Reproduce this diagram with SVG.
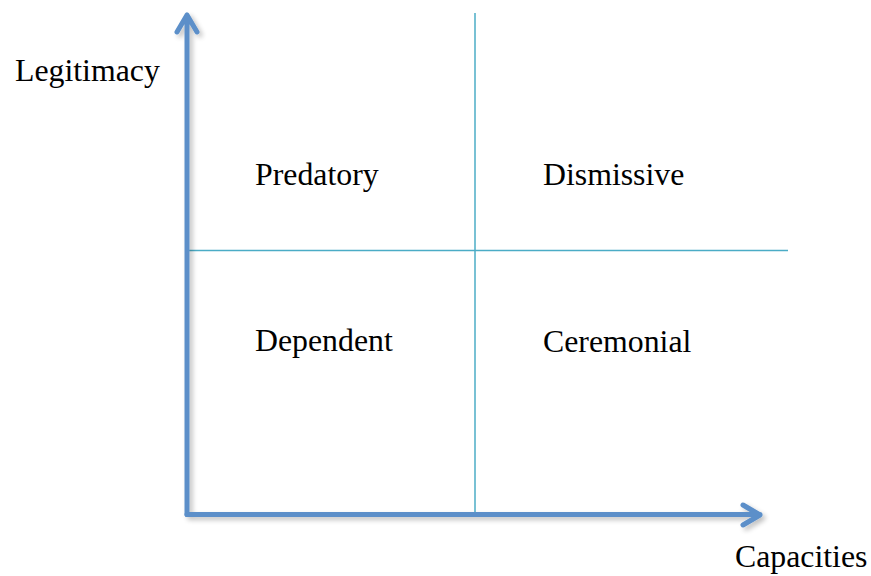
<svg xmlns="http://www.w3.org/2000/svg" width="871" height="576" viewBox="0 0 871 576">
<defs>
<style>
.lbl{font-family:"Liberation Serif","Times New Roman",serif;font-size:31.8px;fill:#000}
.axis{fill:none;stroke:#5B8FC9;stroke-width:5;stroke-linecap:round;stroke-linejoin:round}
.grid{fill:none;stroke:#4BACC6;stroke-width:1.5}
</style>
<filter id="sh" x="-10%" y="-10%" width="130%" height="130%">
<feGaussianBlur in="SourceAlpha" stdDeviation="2.5"/>
<feOffset dx="3" dy="3" result="b"/>
<feComponentTransfer><feFuncA type="linear" slope="0.25"/></feComponentTransfer>
<feMerge><feMergeNode/><feMergeNode in="SourceGraphic"/></feMerge>
</filter>
</defs>
<rect width="871" height="576" fill="#fff"/>
<g id="connectors">
<line class="grid" x1="475" y1="13" x2="475" y2="514"/>
<line class="grid" x1="187" y1="250.5" x2="788" y2="250.5"/>
<g filter="url(#sh)">
<path class="axis" d="M187,514.5 V15 M177,32 L187,15 L197,32"/>
<path class="axis" d="M187,514.5 H760 M743,505 L760,515 L743,525"/>
</g>
</g>
<g id="legitimacy"><text class="lbl" x="15" y="81">Legitimacy</text></g>
<g id="capacities"><text class="lbl" x="735" y="567">Capacities</text></g>
<g id="predatory"><text class="lbl" x="255" y="185">Predatory</text></g>
<g id="dismissive"><text class="lbl" x="543" y="185">Dismissive</text></g>
<g id="dependent"><text class="lbl" x="255" y="351">Dependent</text></g>
<g id="ceremonial"><text class="lbl" x="543" y="352">Ceremonial</text></g>
</svg>
